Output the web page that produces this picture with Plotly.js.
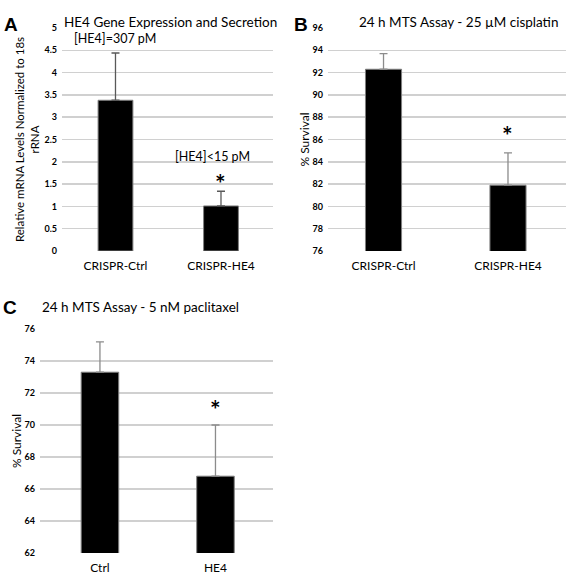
<!DOCTYPE html>
<html>
<head>
<meta charset="utf-8">
<script src="https://cdn.plot.ly/plotly-3.0.1.min.js"></script>
<style>html,body{margin:0;padding:0;background:#fff;}#chart{width:566px;height:574px;}</style>
</head>
<body>
<div id="chart"></div>
<script>
// Panel A
const catsA = ['CRISPR-Ctrl', 'CRISPR-HE4'];
const valsA = [3.38, 1.01];
const errA = [1.06, 0.33];
const noteA = ['[HE4]=307 pM', '[HE4]<15 pM'];
const noteAy = [4.77, 2.13];
// Panel B
const catsB = ['CRISPR-Ctrl', 'CRISPR-HE4'];
const valsB = [92.3, 81.9];
const errB = [1.4, 2.9];
// Panel C
const catsC = ['Ctrl', 'HE4'];
const valsC = [73.3, 66.8];
const errC = [1.9, 3.2];

const FONT = 'Lato, "Open Sans", sans-serif';
const TXT = '#000';

function barTrace(cats, vals, errs, xa, ya, width, errColor) {
  return {
    type: 'bar', x: cats, y: vals, xaxis: xa, yaxis: ya, width: width,
    marker: {color: '#000', line: {color: '#7f7f7f', width: 1}},
    error_y: {type: 'data', symmetric: false, array: errs, arrayminus: errs.map(() => 0),
              color: errColor, thickness: 1.3, width: 4},
    showlegend: false, hoverinfo: 'skip'
  };
}

const data = [
  barTrace(catsA, valsA, errA, 'x', 'y', 0.33, '#595959'),
  barTrace(catsB, valsB, errB, 'x2', 'y2', 0.29, '#8c8c8c'),
  barTrace(catsC, valsC, errC, 'x3', 'y3', 0.325, '#8c8c8c')
];

const yBase = {
  showgrid: true, gridcolor: '#d0d0d0', gridwidth: 1.5, zeroline: false, showline: false,
  ticks: '', tickfont: {family: FONT, size: 9, color: TXT, weight: 'bold'},
  ticklabelstandoff: 4, fixedrange: true
};
const xBase = {
  type: 'category', showgrid: false, zeroline: false, showline: false, ticks: '',
  tickfont: {family: FONT, size: 12, color: TXT}, ticklabelstandoff: 6, fixedrange: true
};

function ann(text, xref, yref, x, y, opts) {
  return Object.assign({text: text, xref: xref, yref: yref, x: x, y: y, showarrow: false,
    font: {family: FONT, size: 12.5, color: TXT}}, opts || {});
}
const starFont = {family: FONT, size: 25, color: TXT};
const letterFont = {family: 'Liberation Sans, Arial', size: 19, color: TXT};
const titleFont = {family: FONT, size: 13.5, color: TXT};

const annotations = [
  // panel letters
  ann('<b>A</b>', 'paper', 'paper', 2/566, 1 - 12/574, {xanchor: 'left', font: letterFont}),
  ann('<b>B</b>', 'paper', 'paper', 292/566, 1 - 12/574, {xanchor: 'left', font: letterFont}),
  ann('<b>C</b>', 'paper', 'paper', 1/566, 1 - 307/574, {xanchor: 'left', font: letterFont}),
  // titles
  ann('HE4 Gene Expression and Secretion', 'paper', 'paper', 62/566, 1 - 12/574, {xanchor: 'left', font: titleFont}),
  ann('24 h MTS Assay - 25 µM cisplatin', 'paper', 'paper', 458/566, 1 - 12/574, {xanchor: 'center', font: titleFont}),
  ann('24 h MTS Assay - 5 nM paclitaxel', 'paper', 'paper', 40/566, 1 - 307/574, {xanchor: 'left', font: titleFont}),
  // notes panel A
  ann(noteA[0], 'x', 'y', catsA[0], noteAy[0], {xshift: 0}),
  ann(noteA[1], 'x', 'y', catsA[1], noteAy[1], {xshift: -8}),
  // asterisks
  ann('<b>*</b>', 'x', 'y', catsA[1], valsA[1] + errA[1], {yanchor: 'bottom', yshift: -9, font: starFont}),
  ann('<b>*</b>', 'x2', 'y2', catsB[1], valsB[1] + errB[1], {yanchor: 'bottom', yshift: 1, font: starFont}),
  ann('<b>*</b>', 'x3', 'y3', catsC[1], valsC[1] + errC[1], {yanchor: 'bottom', yshift: -1, font: starFont})
];

const layout = {
  width: 566, height: 574, margin: {l: 0, r: 0, t: 0, b: 0},
  paper_bgcolor: '#fff', plot_bgcolor: '#fff', showlegend: false,
  font: {family: FONT, color: TXT},
  xaxis: Object.assign({}, xBase, {domain: [62/566, 273/566], range: [-0.507, 1.493], anchor: 'y'}),
  yaxis: Object.assign({}, yBase, {domain: [1 - 251/574, 1 - 28/574], range: [0, 5], dtick: 0.5, anchor: 'x',
    title: {text: 'Relative mRNA Levels Normalized to 18s<br>rRNA', standoff: 2, font: {family: FONT, size: 11.5, color: TXT}}}),
  xaxis2: Object.assign({}, xBase, {domain: [328/566, 1], range: [-0.446, 1.466], anchor: 'y2'}),
  yaxis2: Object.assign({}, yBase, {domain: [1 - 251/574, 1 - 28/574], range: [76, 96], dtick: 2, anchor: 'x2',
    title: {text: '% Survival', standoff: 0, font: {family: FONT, size: 12, color: TXT}}}),
  xaxis3: Object.assign({}, xBase, {domain: [40/566, 273/566], range: [-0.519, 1.498], anchor: 'y3'}),
  yaxis3: Object.assign({}, yBase, {domain: [1 - 553/574, 1 - 329/574], range: [62, 76], dtick: 2, anchor: 'x3',
    title: {text: '% Survival', standoff: 0, font: {family: FONT, size: 12, color: TXT}}}),
  annotations: annotations
};

Plotly.newPlot('chart', data, layout, {staticPlot: true, displayModeBar: false});
</script>
</body>
</html>
